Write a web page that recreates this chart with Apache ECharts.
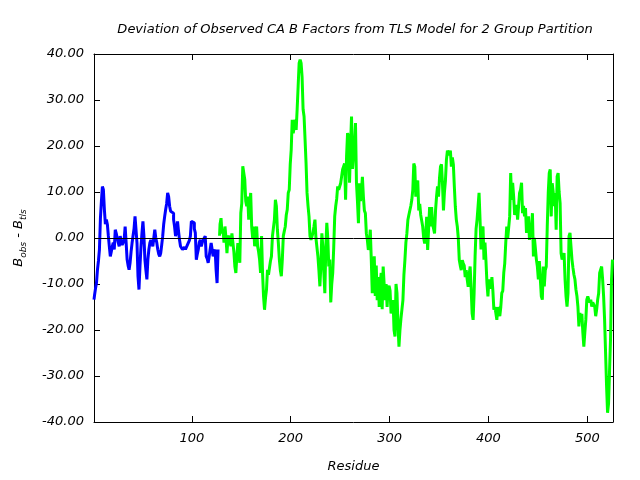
<!DOCTYPE html>
<html>
<head>
<meta charset="utf-8">
<script src="https://cdn.jsdelivr.net/npm/echarts@6/dist/echarts.min.js"></script>
<style>html,body{margin:0;padding:0;background:#fff;}#c{width:640px;height:480px;}</style>
</head>
<body>
<div id="c"></div>
<script>
const titleText = "Deviation of Observed CA B Factors from TLS Model for 2 Group Partition";
const xTicks = [100, 200, 300, 400, 500];
const xMin = 1, xMax = 526;
const blueStart = 1;
const blueValues = [
-13.4,-12.5,-11,-9.8,-6.9,-5,-2.5,4.3,8,11.2,
10.5,6.2,3,4,3,0.5,-1.8,-4,-3,-1.8,
-1,-2.5,1.8,1,0,-1,-1.8,0.4,-0.5,-1.5,
-1,-0.4,2.5,-1,-4.7,-6,-6.9,-5.4,-3,-1.1,
0.5,2,4.7,4.5,-1.1,-8.3,-11.2,-6.2,-2,1,
3.6,0.4,-4.7,-7,-9,-4.7,-2.5,-1.1,-0.4,-1,
-1.8,0,1.8,0,-1,-2.5,-3.5,-4,-3.3,-1.5,
0.4,3,4.7,6.2,7.5,9.8,9,6.9,5.8,5.4,
5.4,4,2.5,0.4,1.8,3.6,1.5,-0.4,-1.8,-2,
-2.5,-2.3,-2,-2.5,-2.5,-1.5,-1.1,-0.5,0.4,3.6,
3.5,3.3,2,1.1,-4.7,-3.5,-2.5,-1,-0.4,-1.8,
-1,-0.4,0,0.4,-4,-4.5,-5.4,-4,-2.5,-1.1,
-2.5,-4,-3,-2.5,-6.9,-9.8,-2.5
];
const greenStart = 128;
const greenValues = [
0.5,3,4.3,1,2,-1,2.5,0,-3.3,0,
0.5,0.4,-1.8,1,0.7,-3,-6.2,-7.6,-4,-1.1,
-3,-5.4,5.4,7.6,15.6,15.6,12.7,8,6.9,9,
4,7,9.8,2.5,0,2.5,-1.8,1,2.5,-1.8,
-3,-4.7,-7.6,0.4,-7.6,-12.7,-15.6,-13,-11.2,-6.9,
-8,-7.6,-5,-4,0.4,2.2,4,8.3,6.9,1.8,
-1.1,-4.7,-7,-8.3,-4.7,0.4,1.5,2.5,5,6.2,
9.8,10.5,16,19.2,25.7,22.8,24,25.7,23.5,28,
33,38,38.8,38,35,28,26.4,21.4,16.3,9.8,
7,4.7,0.4,-0.4,0,1.1,2.5,4,0,-0.4,
-4,-7,-10.5,-6,1,-2,-7.6,-12,-2,3.3,
0,-6.2,-4.7,-14,-10,-7.6,-2,4.7,6.9,8.5,
11.2,10.5,10.8,11.9,13.4,14.9,15,16.2,8.3,17.8,
22.8,22,12,20,26.4,15,18,20,25,12,
8,3.2,11.9,8,10,13.3,9,6,5.4,1,
-0.4,-2.6,-1,1.8,-4.8,-12,-10,-4,-12.6,-6,
-13.5,-8.5,-15,-10,-7.6,-15.5,-6.2,-10,-13.5,-10,
-15,-11,-10.4,-11.5,-16.4,-15.5,-13.5,-20,-21.4,-10,
-12,-19,-23.6,-20,-17.5,-15.5,-13.5,-8,-4.8,-1,
1,3.9,5,5.4,7,8.3,10.5,16.2,15.5,9,
12,12.5,6,7.4,5,4.6,2.5,0,-1.2,0.3,
4.6,-2.6,2,6.7,2.5,6.7,3,2,1,6,
9,11.2,9,13,15.5,16,11.8,6,10,12.5,
17,19,19,18,19,15.5,17.5,16,11.2,6.8,
4,2.5,0,-4.8,-6,-7,-4.8,-5.5,-6,-8.5,
-7,-9,-10.6,-8,-6.2,-11,-16.4,-17.8,-12,-4,
2,4,6.9,9.8,4,-2.5,2,2.5,-4.7,-1,
-5,-9.8,-12.7,-9,-10,-11,-8.5,-11.5,-15.6,-15,
-16.3,-17.8,-15,-15,-17,-15,-12,-11.5,-7.6,-5.5,
-1.1,2.5,0,0.4,4.7,14.1,8.3,12,9,5,
5,7.2,4,6.9,9.8,10.5,12,5.4,7,4.7,
6.5,1.1,3,4.7,-0.4,1,2,5.4,-4,0,
0.4,-4.7,-6.2,-9,-5,-9,-12.7,-13.4,-6.2,-10.5,
-7,-6.2,2.5,9.8,14.1,14.9,4.7,11.9,10,6.9,
9.8,1.8,13.4,14.1,10,7.6,-3.3,-4.7,-4.7,-3.3,
-9,-12.7,-14.9,-12,0.4,1.1,-1.8,-4.7,-6.5,-8,
-9,-11.2,-12.6,-14.9,-19.2,-16.3,-17.8,-16.5,-20.6,-23.6,
-20.6,-17.8,-13.4,-12.7,-13.4,-14,-13.4,-14.9,-14,-14.4,
-14.9,-17,-15.5,-13.4,-12,-7.6,-8,-6.2,-9,-12.7,
-17.8,-25,-32.2,-38,-36,-29,-22,-9,-4.7
];

function toPairs(start, vals) { return vals.map((v, i) => [start + i, v]); }

const FONT = 'DejaVu Sans';
const chart = echarts.init(document.getElementById('c'), null, {renderer: 'canvas'});
function tick(extra) { return Object.assign({show: true, inside: true, length: 6, lineStyle: {color: '#000', width: 1}}, extra || {}); }
function axLine() { return {show: true, onZero: false, lineStyle: {color: '#000', width: 1}}; }
chart.setOption({
  animation: false,
  backgroundColor: '#fff',
  title: {
    text: titleText, left: 350, top: 18, textAlign: 'center',
    textStyle: {fontFamily: FONT, fontStyle: 'italic', fontWeight: 'normal', fontSize: 13, color: '#000'}
  },
  grid: {left: 94, right: 27, top: 54, bottom: 58},
  xAxis: [{
    type: 'value', min: xMin, max: xMax, position: 'bottom',
    name: 'Residue', nameLocation: 'middle', nameGap: 38,
    nameTextStyle: {fontFamily: FONT, fontStyle: 'italic', fontSize: 13, color: '#000'},
    axisLine: axLine(),
    axisTick: tick({customValues: xTicks}),
    axisLabel: {customValues: xTicks, fontFamily: FONT, fontStyle: 'italic', fontSize: 13, color: '#000', margin: 10},
    splitLine: {show: false}
  }, {
    type: 'value', min: xMin, max: xMax, position: 'top',
    axisLine: axLine(),
    axisTick: tick({customValues: xTicks}),
    axisLabel: {show: false}, splitLine: {show: false}
  }],
  yAxis: [{
    type: 'value', min: -40, max: 40, interval: 10, position: 'left',
    name: '{b|B}{s|obs}{b| - B}{s|tls}', nameLocation: 'middle', nameRotate: 90, nameGap: 66,
    nameTextStyle: {
      fontFamily: FONT, fontStyle: 'italic', fontSize: 13, color: '#000',
      rich: {
        b: {fontFamily: FONT, fontStyle: 'italic', fontSize: 13, color: '#000', lineHeight: 18, verticalAlign: 'middle'},
        s: {fontFamily: FONT, fontStyle: 'italic', fontSize: 9, color: '#000', lineHeight: 18, verticalAlign: 'bottom', padding: [6, 0, 0, 0]}
      }
    },
    axisLine: axLine(),
    axisTick: tick(),
    axisLabel: {formatter: v => v.toFixed(2), fontFamily: FONT, fontStyle: 'italic', fontSize: 13, color: '#000', margin: 10},
    splitLine: {show: false}
  }, {
    type: 'value', min: -40, max: 40, interval: 10, position: 'right',
    axisLine: axLine(),
    axisTick: tick(), axisLabel: {show: false}, splitLine: {show: false}
  }],
  series: [{
    type: 'line', name: 'g1', data: toPairs(blueStart, blueValues), step: 'middle',
    showSymbol: false, symbol: 'none', lineStyle: {color: '#0000ff', width: 3}, z: 3
  }, {
    type: 'line', name: 'g2', data: toPairs(greenStart, greenValues), step: 'middle',
    showSymbol: false, symbol: 'none', lineStyle: {color: '#00ff00', width: 3}, z: 3,
    markLine: {silent: true, symbol: 'none', label: {show: false}, lineStyle: {color: '#000', width: 1, type: 'solid'}, data: [{yAxis: 0}]}
  }]
});
</script>
</body>
</html>
